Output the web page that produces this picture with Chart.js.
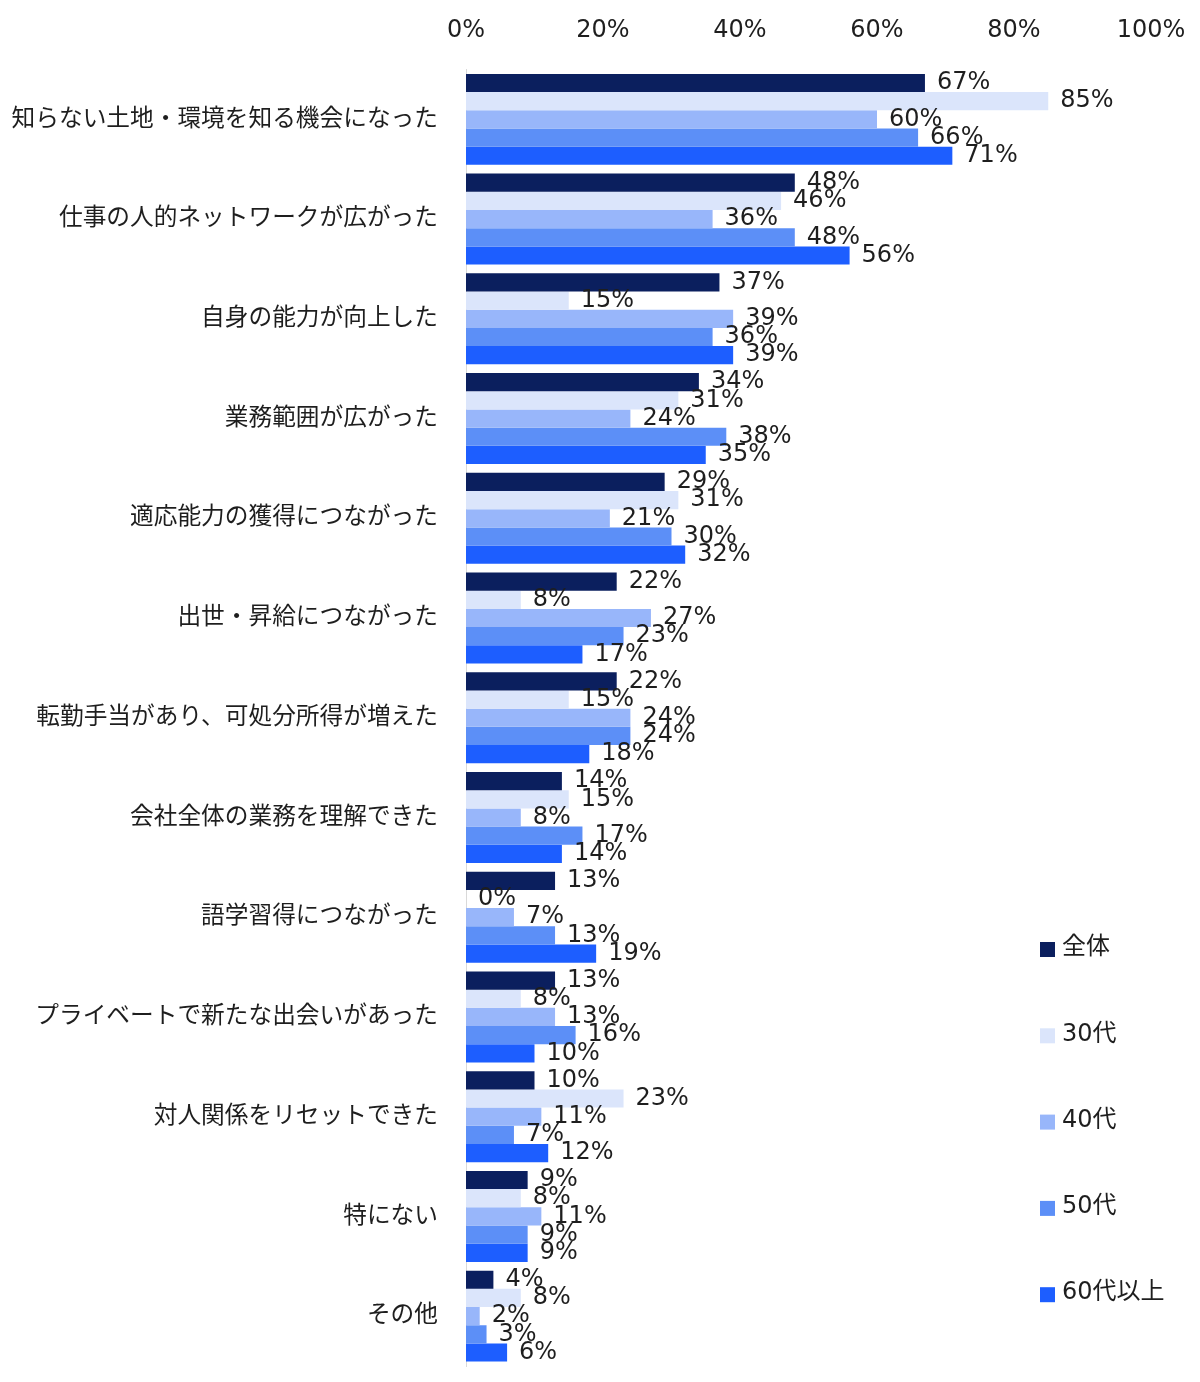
<!DOCTYPE html>
<html lang="ja">
<head>
<meta charset="utf-8">
<title>転勤のメリット</title>
<script src="https://cdn.jsdelivr.net/npm/chart.js@4.4.1/dist/chart.umd.min.js"></script>
<style>
  html, body { margin: 0; padding: 0; background: #fff; overflow: hidden; }
  #chart { display: block; }
</style>
</head>
<body>
<canvas id="chart" width="1200" height="1382"></canvas>
<script>
// categories (top to bottom)
const categories = [
  '知らない土地・環境を知る機会になった',
  '仕事の人的ネットワークが広がった',
  '自身の能力が向上した',
  '業務範囲が広がった',
  '適応能力の獲得につながった',
  '出世・昇給につながった',
  '転勤手当があり、可処分所得が増えた',
  '会社全体の業務を理解できた',
  '語学習得につながった',
  'プライベートで新たな出会いがあった',
  '対人関係をリセットできた',
  '特にない',
  'その他'
];

// series values, percent
const allRespondents = [67, 48, 37, 34, 29, 22, 22, 14, 13, 13, 10, 9, 4];
const age30s = [85, 46, 15, 31, 31, 8, 15, 15, 0, 8, 23, 8, 8];
const age40s = [60, 36, 39, 24, 21, 27, 24, 8, 7, 13, 11, 11, 2];
const age50s = [66, 48, 36, 38, 30, 23, 24, 17, 13, 16, 7, 9, 3];
const age60plus = [71, 56, 39, 35, 32, 17, 18, 14, 19, 10, 12, 9, 6];

const seriesNames = ['全体', '30代', '40代', '50代', '60代以上'];
const xTicks = [0, 20, 40, 60, 80, 100];

const colors = ['#0b1f5e', '#dbe5fb', '#98b6fa', '#5c8ff7', '#1d5eff'];
const FONT = '"DejaVu Sans", "Noto Sans CJK JP", sans-serif';
const TEXT = '#1e1e1e';

// value labels to the right of each bar
const valueLabels = {
  id: 'valueLabels',
  afterDatasetsDraw(chart) {
    const ctx = chart.ctx;
    ctx.save();
    ctx.font = '24px ' + FONT;
    ctx.fillStyle = TEXT;
    ctx.textAlign = 'left';
    ctx.textBaseline = 'middle';
    chart.data.datasets.forEach((ds, i) => {
      chart.getDatasetMeta(i).data.forEach((bar, j) => {
        ctx.fillText(ds.data[j] + '%', bar.x + 12, bar.y);
      });
    });
    ctx.restore();
  }
};

// vertical legend in the lower right
const sideLegend = {
  id: 'sideLegend',
  afterDraw(chart) {
    const ctx = chart.ctx;
    ctx.save();
    ctx.font = '24px ' + FONT;
    ctx.textAlign = 'left';
    ctx.textBaseline = 'middle';
    chart.data.datasets.forEach((ds, i) => {
      const y = 948 + i * 86.3;
      ctx.fillStyle = ds.backgroundColor;
      ctx.fillRect(1040, y - 6, 15, 15);
      ctx.fillStyle = TEXT;
      ctx.fillText(ds.label, 1062, y);
    });
    ctx.restore();
  }
};

const seriesData = [allRespondents, age30s, age40s, age50s, age60plus];

new Chart(document.getElementById('chart'), {
  type: 'bar',
  data: {
    labels: categories,
    datasets: seriesData.map((d, i) => ({
      label: seriesNames[i],
      data: d,
      backgroundColor: colors[i],
      borderWidth: 0,
      barPercentage: 1.0,
      categoryPercentage: 0.912
    }))
  },
  options: {
    indexAxis: 'y',
    responsive: false,
    devicePixelRatio: 1,
    animation: false,
    layout: { padding: { left: 0, right: 49, top: 0, bottom: 16 } },
    plugins: {
      legend: { display: false },
      tooltip: { enabled: false }
    },
    scales: {
      x: {
        position: 'top',
        min: 0,
        max: 100,
        afterBuildTicks(scale) {
          scale.ticks = xTicks.map(v => ({ value: v }));
        },
        afterFit(scale) {
          scale.height = 69.5;
          scale.paddingLeft = 0;
          scale.paddingRight = 0;
        },
        grid: { display: false, drawTicks: false },
        border: { display: false },
        ticks: {
          padding: 24,
          color: TEXT,
          font: { family: FONT, size: 24 },
          callback: v => v + '%'
        }
      },
      y: {
        afterFit(scale) {
          scale.width = 466;
          scale.paddingTop = 0;
          scale.paddingBottom = 0;
        },
        grid: { display: false, drawTicks: false },
        border: { display: true, color: '#d9d9d9', width: 1 },
        ticks: {
          padding: 28,
          color: TEXT,
          font: { family: FONT, size: 23.7 }
        }
      }
    }
  },
  plugins: [valueLabels, sideLegend]
});
</script>
</body>
</html>
